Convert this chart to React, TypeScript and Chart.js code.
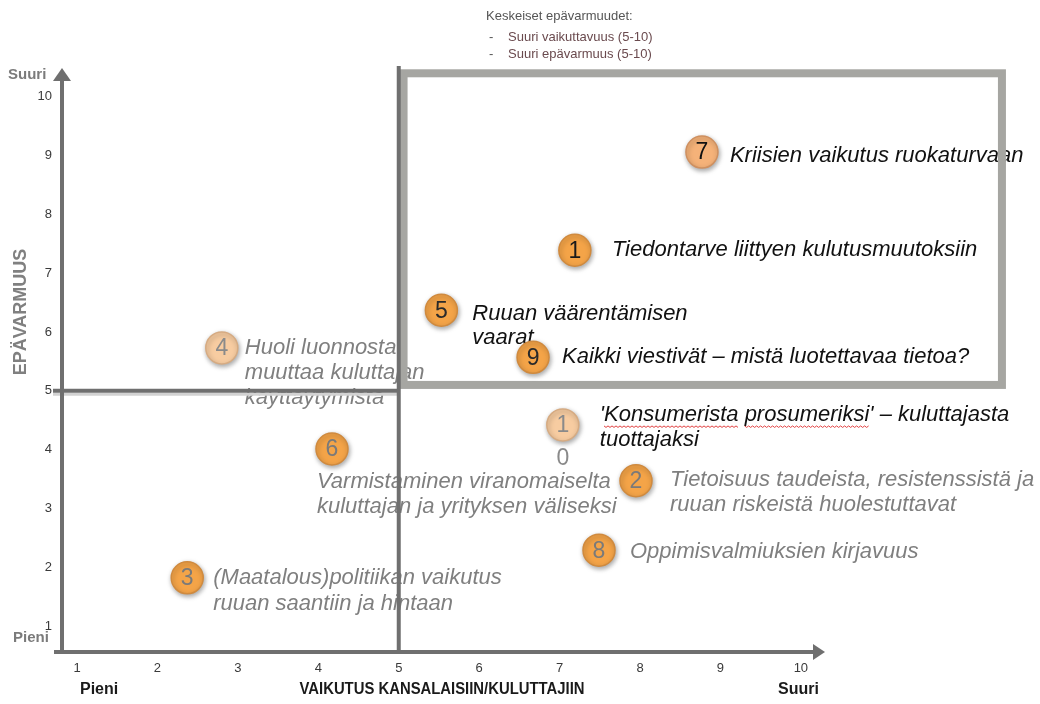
import React, { useEffect, useRef } from "react";
import { Chart, registerables } from "chart.js";

Chart.register(...registerables);

// ---------- data ----------
const xTickValues = [1, 2, 3, 4, 5, 6, 7, 8, 9, 10];
const yTickValues = [1, 2, 3, 4, 5, 6, 7, 8, 9, 10];
const xRange = [0.813, 10.3];
const yRange = [0.558, 10.49];
const dividerX = 5;
const dividerY = 5;
const focusBoxX = [5.06, 12.5];
const focusBoxY = [5.1, 10.4];

const issueNumbers = ["7", "1", "5", "9", "4", "10", "6", "2", "8", "3"];
const impactValues = [8.77, 7.19, 5.53, 6.67, 2.8, 7.04, 4.17, 7.95, 7.49, 2.37];
const uncertaintyValues = [9.06, 7.39, 6.37, 5.57, 5.73, 4.42, 4.01, 3.47, 2.29, 1.82];
const issueTexts = [
  ["Kriisien vaikutus ruokaturvaan"],
  ["Tiedontarve liittyen kulutusmuutoksiin"],
  ["Ruuan väärentämisen", "vaarat"],
  ["Kaikki viestivät – mistä luotettavaa tietoa?"],
  ["Huoli luonnosta", "muuttaa kuluttajan", "käyttäytymistä"],
  ["'Konsumerista prosumeriksi' – kuluttajasta", "tuottajaksi"],
  ["Varmistaminen viranomaiselta", "kuluttajan ja yrityksen väliseksi"],
  ["Tietoisuus taudeista, resistenssistä ja", "ruuan riskeistä huolestuttavat"],
  ["Oppimisvalmiuksien kirjavuus"],
  ["(Maatalous)politiikan vaikutus", "ruuan saantiin ja hintaan"],
];
const spellFlagged = ["Konsumerista", "prosumeriksi"];

const xAxisTitle = "VAIKUTUS KANSALAISIIN/KULUTTAJIIN";
const yAxisTitle = "EPÄVARMUUS";
const lowLabel = "Pieni";
const highLabel = "Suuri";
const noteTitle = "Keskeiset epävarmuudet:";
const noteItems = ["Suuri vaikuttavuus (5-10)", "Suuri epävarmuus (5-10)"];

// ---------- styles ----------
const ORANGE = "#f4a448";
const bubbleFill = ["#f5b279", ORANGE, ORANGE, ORANGE, "#f7cca1", "#f7cca1", ORANGE, ORANGE, ORANGE, ORANGE];
const bubbleBorder = ["#cf9060", "#d08a3e", "#d08a3e", "#d08a3e", "#d6ab82", "#d6ab82", "#d08a3e", "#d08a3e", "#d08a3e", "#d08a3e"];
const numberColors = ["#111", "#1a1a1a", "#2a2a2a", "#2a2a2a", "#8a8a8a", "#8a8a8a", "#7a7a7a", "#7a7a7a", "#7a7a7a", "#7a7a7a"];
const textColors = ["#111", "#111", "#111", "#111", "#7f7f7f", "#111", "#7f7f7f", "#7f7f7f", "#7f7f7f", "#7f7f7f"];
const labelOffsets = [
  [28, 4], [37, 0], [31, 4], [29, 0], [23, 0], [37, -10], [-15, 33], [34, -1], [31, 2], [26, 0],
];
const lineHeights = [25, 25, 24, 25, 25, 25, 25, 25, 25, 26];
const BUBBLE_R = 16;
const LABEL_FONT = "italic 22px 'Liberation Sans', Arial, sans-serif";
const NUM_FONT = "23px 'Liberation Sans', Arial, sans-serif";
const AXIS_DARK = "#6f6f6f";

const overlay = {
  id: "overlay",
  beforeDatasetsDraw(chart: any) {
    const { ctx, chartArea: a, scales } = chart;
    const x = scales.x;
    const y = scales.y;
    const meta = chart.getDatasetMeta(0);
    ctx.save();
    // labels
    ctx.font = LABEL_FONT;
    ctx.textAlign = "left";
    ctx.textBaseline = "middle";
    meta.data.forEach((pt: any, i: number) => {
      const [dx, dy] = labelOffsets[i];
      ctx.fillStyle = textColors[i];
      issueTexts[i].forEach((ln, j) => {
        const tx = pt.x + dx;
        const ty = pt.y + dy + j * lineHeights[i];
        ctx.fillText(ln, tx, ty);
        spellFlagged.forEach((w) => {
          const idx = ln.indexOf(w);
          if (idx < 0) return;
          const sx = tx + ctx.measureText(ln.slice(0, idx)).width;
          const ww = ctx.measureText(w).width;
          ctx.save();
          ctx.strokeStyle = "#e04040";
          ctx.lineWidth = 1;
          ctx.beginPath();
          let up = true;
          for (let px = sx; px <= sx + ww; px += 2) {
            const yy = ty + 11 + (up ? 0 : 1.5);
            if (px === sx) ctx.moveTo(px, yy);
            else ctx.lineTo(px, yy);
            up = !up;
          }
          ctx.stroke();
          ctx.restore();
        });
      });
    });

    // focus box
    const bx0 = x.getPixelForValue(focusBoxX[0]);
    const bx1 = x.getPixelForValue(focusBoxX[1]);
    const by0 = y.getPixelForValue(focusBoxY[1]);
    const by1 = y.getPixelForValue(focusBoxY[0]);
    ctx.strokeStyle = "#a6a6a2";
    ctx.lineWidth = 8;
    ctx.strokeRect(bx0, by0, bx1 - bx0, by1 - by0);

    // dividers
    const x5 = x.getPixelForValue(dividerX);
    const y5 = y.getPixelForValue(dividerY);
    ctx.strokeStyle = "#d2d2d2";
    ctx.lineWidth = 3;
    ctx.beginPath();
    ctx.moveTo(a.left - 9, y5 + 3.5);
    ctx.lineTo(x5, y5 + 3.5);
    ctx.stroke();
    ctx.strokeStyle = AXIS_DARK;
    ctx.lineWidth = 4;
    ctx.beginPath();
    ctx.moveTo(a.left - 9, y5);
    ctx.lineTo(x5, y5);
    ctx.moveTo(x5, a.top - 2);
    ctx.lineTo(x5, a.bottom);
    ctx.stroke();

    // axes with arrows
    ctx.beginPath();
    ctx.moveTo(a.left - 8, a.bottom);
    ctx.lineTo(a.right - 10, a.bottom);
    ctx.moveTo(a.left, a.bottom);
    ctx.lineTo(a.left, a.top + 12);
    ctx.stroke();
    ctx.fillStyle = AXIS_DARK;
    ctx.beginPath();
    ctx.moveTo(a.right, a.bottom);
    ctx.lineTo(a.right - 12, a.bottom - 8);
    ctx.lineTo(a.right - 12, a.bottom + 8);
    ctx.closePath();
    ctx.fill();
    ctx.beginPath();
    ctx.moveTo(a.left, a.top);
    ctx.lineTo(a.left - 9, a.top + 13);
    ctx.lineTo(a.left + 9, a.top + 13);
    ctx.closePath();
    ctx.fill();
    ctx.restore();

    // shadow for bubbles
    ctx.save();
    ctx.shadowColor = "rgba(0,0,0,0.35)";
    ctx.shadowBlur = 5;
    ctx.shadowOffsetX = 1;
    ctx.shadowOffsetY = 2;
  },
  afterDatasetsDraw(chart: any) {
    const { ctx } = chart;
    ctx.restore();
    const meta = chart.getDatasetMeta(0);
    ctx.save();
    ctx.font = NUM_FONT;
    ctx.textAlign = "center";
    ctx.textBaseline = "middle";
    meta.data.forEach((pt: any, i: number) => {
      ctx.fillStyle = numberColors[i];
      const label = issueNumbers[i];
      if (ctx.measureText(label).width > BUBBLE_R * 2 - 8) {
        ctx.fillText(label.slice(0, 1), pt.x, pt.y + 1);
        ctx.fillText(label.slice(1), pt.x, pt.y + 34);
      } else {
        ctx.fillText(label, pt.x, pt.y + 1);
      }
    });
    ctx.restore();
  },
  afterDraw(chart: any) {
    const { ctx } = chart;
    ctx.save();
    ctx.textBaseline = "middle";
    // y title
    ctx.save();
    ctx.translate(21, 312);
    ctx.rotate(-Math.PI / 2);
    ctx.textAlign = "center";
    ctx.fillStyle = "#808080";
    ctx.font = "bold 18px 'Liberation Sans', Arial, sans-serif";
    ctx.fillText(yAxisTitle, 0, 0, 135);
    ctx.restore();
    // y extremes
    ctx.textAlign = "left";
    ctx.fillStyle = "#7b7b7b";
    ctx.font = "bold 15px 'Liberation Sans', Arial, sans-serif";
    ctx.fillText(highLabel, 8, 75, 42);
    ctx.fillText(lowLabel, 13, 638, 40);
    // x extremes and title
    ctx.fillStyle = "#1a1a1a";
    ctx.font = "bold 16px 'Liberation Sans', Arial, sans-serif";
    ctx.fillText(lowLabel, 80, 690, 46);
    ctx.fillText(highLabel, 778, 690, 45);
    ctx.textAlign = "center";
    ctx.fillText(xAxisTitle, 442, 690, 285);
    // note
    ctx.textAlign = "left";
    ctx.font = "13px 'Liberation Sans', Arial, sans-serif";
    ctx.fillStyle = "#555";
    ctx.fillText(noteTitle, 486, 16, 167);
    noteItems.forEach((t, i) => {
      const yy = 37 + i * 17;
      ctx.fillStyle = "#555";
      ctx.fillText("-", 489, yy);
      ctx.fillStyle = "#6a4a4e";
      ctx.fillText(t, 508, yy, 162);
    });
    ctx.restore();
  },
};

export default function App() {
  const ref = useRef<HTMLCanvasElement>(null);
  useEffect(() => {
    const tickFont = { family: "'Liberation Sans', Arial, sans-serif", size: 13 };
    const chart = new Chart(ref.current as HTMLCanvasElement, {
      type: "scatter",
      data: {
        datasets: [
          {
            data: impactValues.map((v, i) => ({ x: v, y: uncertaintyValues[i] })),
            pointRadius: BUBBLE_R,
            pointHoverRadius: BUBBLE_R,
            pointBackgroundColor: bubbleFill,
            pointBorderColor: bubbleBorder,
            pointBorderWidth: 1.5,
            clip: false as any,
          },
        ],
      },
      options: {
        animation: false,
        responsive: true,
        maintainAspectRatio: false,
        layout: { padding: { top: 68, right: 215, left: 0, bottom: 0 } },
        plugins: { legend: { display: false }, tooltip: { enabled: false } },
        events: [],
        scales: {
          x: {
            type: "linear",
            min: xRange[0],
            max: xRange[1],
            grid: { display: false, drawTicks: false },
            border: { display: false },
            afterBuildTicks: (s: any) => {
              s.ticks = xTickValues.map((v) => ({ value: v }));
            },
            afterFit: (s: any) => {
              s.height = 52;
            },
            ticks: {
              autoSkip: false,
              maxRotation: 0,
              padding: 9,
              color: "#3a3a3a",
              font: tickFont,
              callback: (v: any) => String(v),
            },
          },
          y: {
            type: "linear",
            min: yRange[0],
            max: yRange[1],
            grid: { display: false, drawTicks: false },
            border: { display: false },
            afterBuildTicks: (s: any) => {
              s.ticks = yTickValues.map((v) => ({ value: v }));
            },
            afterFit: (s: any) => {
              s.width = 62;
            },
            ticks: {
              autoSkip: false,
              padding: 10,
              color: "#3a3a3a",
              font: tickFont,
              callback: (v: any) => String(v),
            },
          },
        },
      } as any,
      plugins: [overlay],
    });
    return () => chart.destroy();
  }, []);
  return (
    <div style={{ position: "fixed", left: 0, top: 0, width: 1040, height: 704, background: "#fff" }}>
      <canvas ref={ref} />
    </div>
  );
}
